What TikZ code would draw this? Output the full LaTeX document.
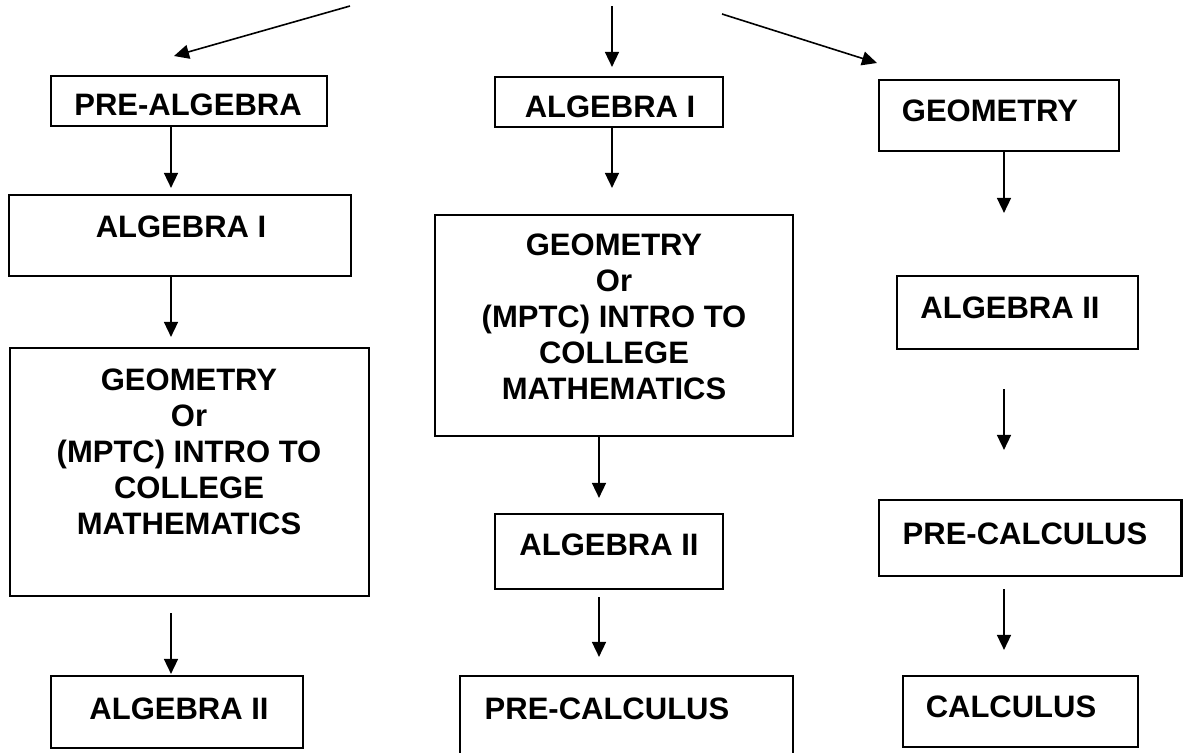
\documentclass[tikz,border=0pt]{standalone}
\usepackage{fontspec}
\setmainfont{Liberation Sans}
\usetikzlibrary{arrows.meta}
\tikzset{
  box/.style={draw, line width=1.1pt, rectangle, inner sep=0pt},
  lbl/.style={anchor=north, inner sep=0pt, align=center,
    font=\bfseries\fontsize{15.5}{18}\selectfont},
  arr/.style={line width=0.8pt, -{Triangle[width=7pt,length=7.5pt]}},
}
\newcommand{\mkbox}[5]{%
  \node[box, minimum width={(#4-#2)*0.5pt}, minimum height={(#5-#3)*0.5pt}]
    (#1) at ({(#2+#4)/2},{(#3+#5)/2}) {};}
\begin{document}
\begin{tikzpicture}[x=0.5pt,y=-0.5pt]
\useasboundingbox (0,0) rectangle (1183,752);
% boxes
\mkbox{pa}{51}{76}{327}{126}
\mkbox{aL}{9}{195}{351}{276}
\mkbox{gL}{10}{348}{369}{596}
\mkbox{bL}{51}{676}{303}{748}
\mkbox{aM}{495}{77}{723}{127}
\mkbox{gM}{435}{215}{793}{436}
\mkbox{bM}{495}{514}{723}{589}
\mkbox{pM}{460}{676}{793}{760}
\mkbox{gR}{879}{80}{1119}{151}
\mkbox{bR}{897}{276}{1138}{349}
\mkbox{pR}{879}{500}{1181.5}{576}
\mkbox{cR}{903}{676}{1138}{747}
% labels
\node[lbl] (tpa) at (188,93) {PRE-ALGEBRA};
\node[lbl] (taL) at (181,215) {ALGEBRA I};
\node[lbl] (tgL) at (189,368) {GEOMETRY\\Or\\(MPTC) INTRO TO\\COLLEGE\\MATHEMATICS};
\node[lbl] (tbL) at (179,697) {ALGEBRA II};
\node[lbl] (taM) at (610,95) {ALGEBRA I};
\node[lbl] (tgM) at (614,233) {GEOMETRY\\Or\\(MPTC) INTRO TO\\COLLEGE\\MATHEMATICS};
\node[lbl] (tbM) at (609,533) {ALGEBRA II};
\node[lbl] (tpM) at (607,697) {PRE-CALCULUS};
\node[lbl] (tgR) at (990,99) {GEOMETRY};
\node[lbl] (tbR) at (1010,296) {ALGEBRA II};
\node[lbl] (tpR) at (1025,522) {PRE-CALCULUS};
\node[lbl] (tcR) at (1011,695) {CALCULUS};
% column lines
\coordinate (c1) at (171,0);
\coordinate (c2) at (612,0);
\coordinate (c2b) at (599,0);
\coordinate (c3) at (1004,0);
% top free ends
\coordinate (sL) at (350,6);
\coordinate (sM) at (612,6);
\coordinate (sR) at (722,14);
\coordinate (eL) at (174,56);
\coordinate (eR) at (877,63);
\draw[arr] (sL) -- (eL);
\draw[arr, shorten >=4.5pt] (sM) -- (aM.north -| c2);
\draw[arr] (sR) -- (eR);
% column 1
\draw[arr, shorten >=3pt] (pa.south -| c1) -- (aL.north -| c1);
\draw[arr, shorten >=5pt] (aL.south -| c1) -- (gL.north -| c1);
\draw[arr, shorten <=8pt, shorten >=0.5pt] (gL.south -| c1) -- (bL.north -| c1);
% column 2
\draw[arr, shorten >=13pt] (aM.south -| c2) -- (gM.north -| c2);
\draw[arr, shorten >=7.5pt] (gM.south -| c2b) -- (bM.north -| c2b);
\draw[arr, shorten <=3.5pt, shorten >=9pt] (bM.south -| c2b) -- (pM.north -| c2b);
% column 3
\draw[arr, shorten >=31pt] (gR.south -| c3) -- (bR.north -| c3);
\draw[arr, shorten <=19.5pt, shorten >=24.5pt] (bR.south -| c3) -- (pR.north -| c3);
\draw[arr, shorten <=6pt, shorten >=12.5pt] (pR.south -| c3) -- (cR.north -| c3);
\end{tikzpicture}
\end{document}
